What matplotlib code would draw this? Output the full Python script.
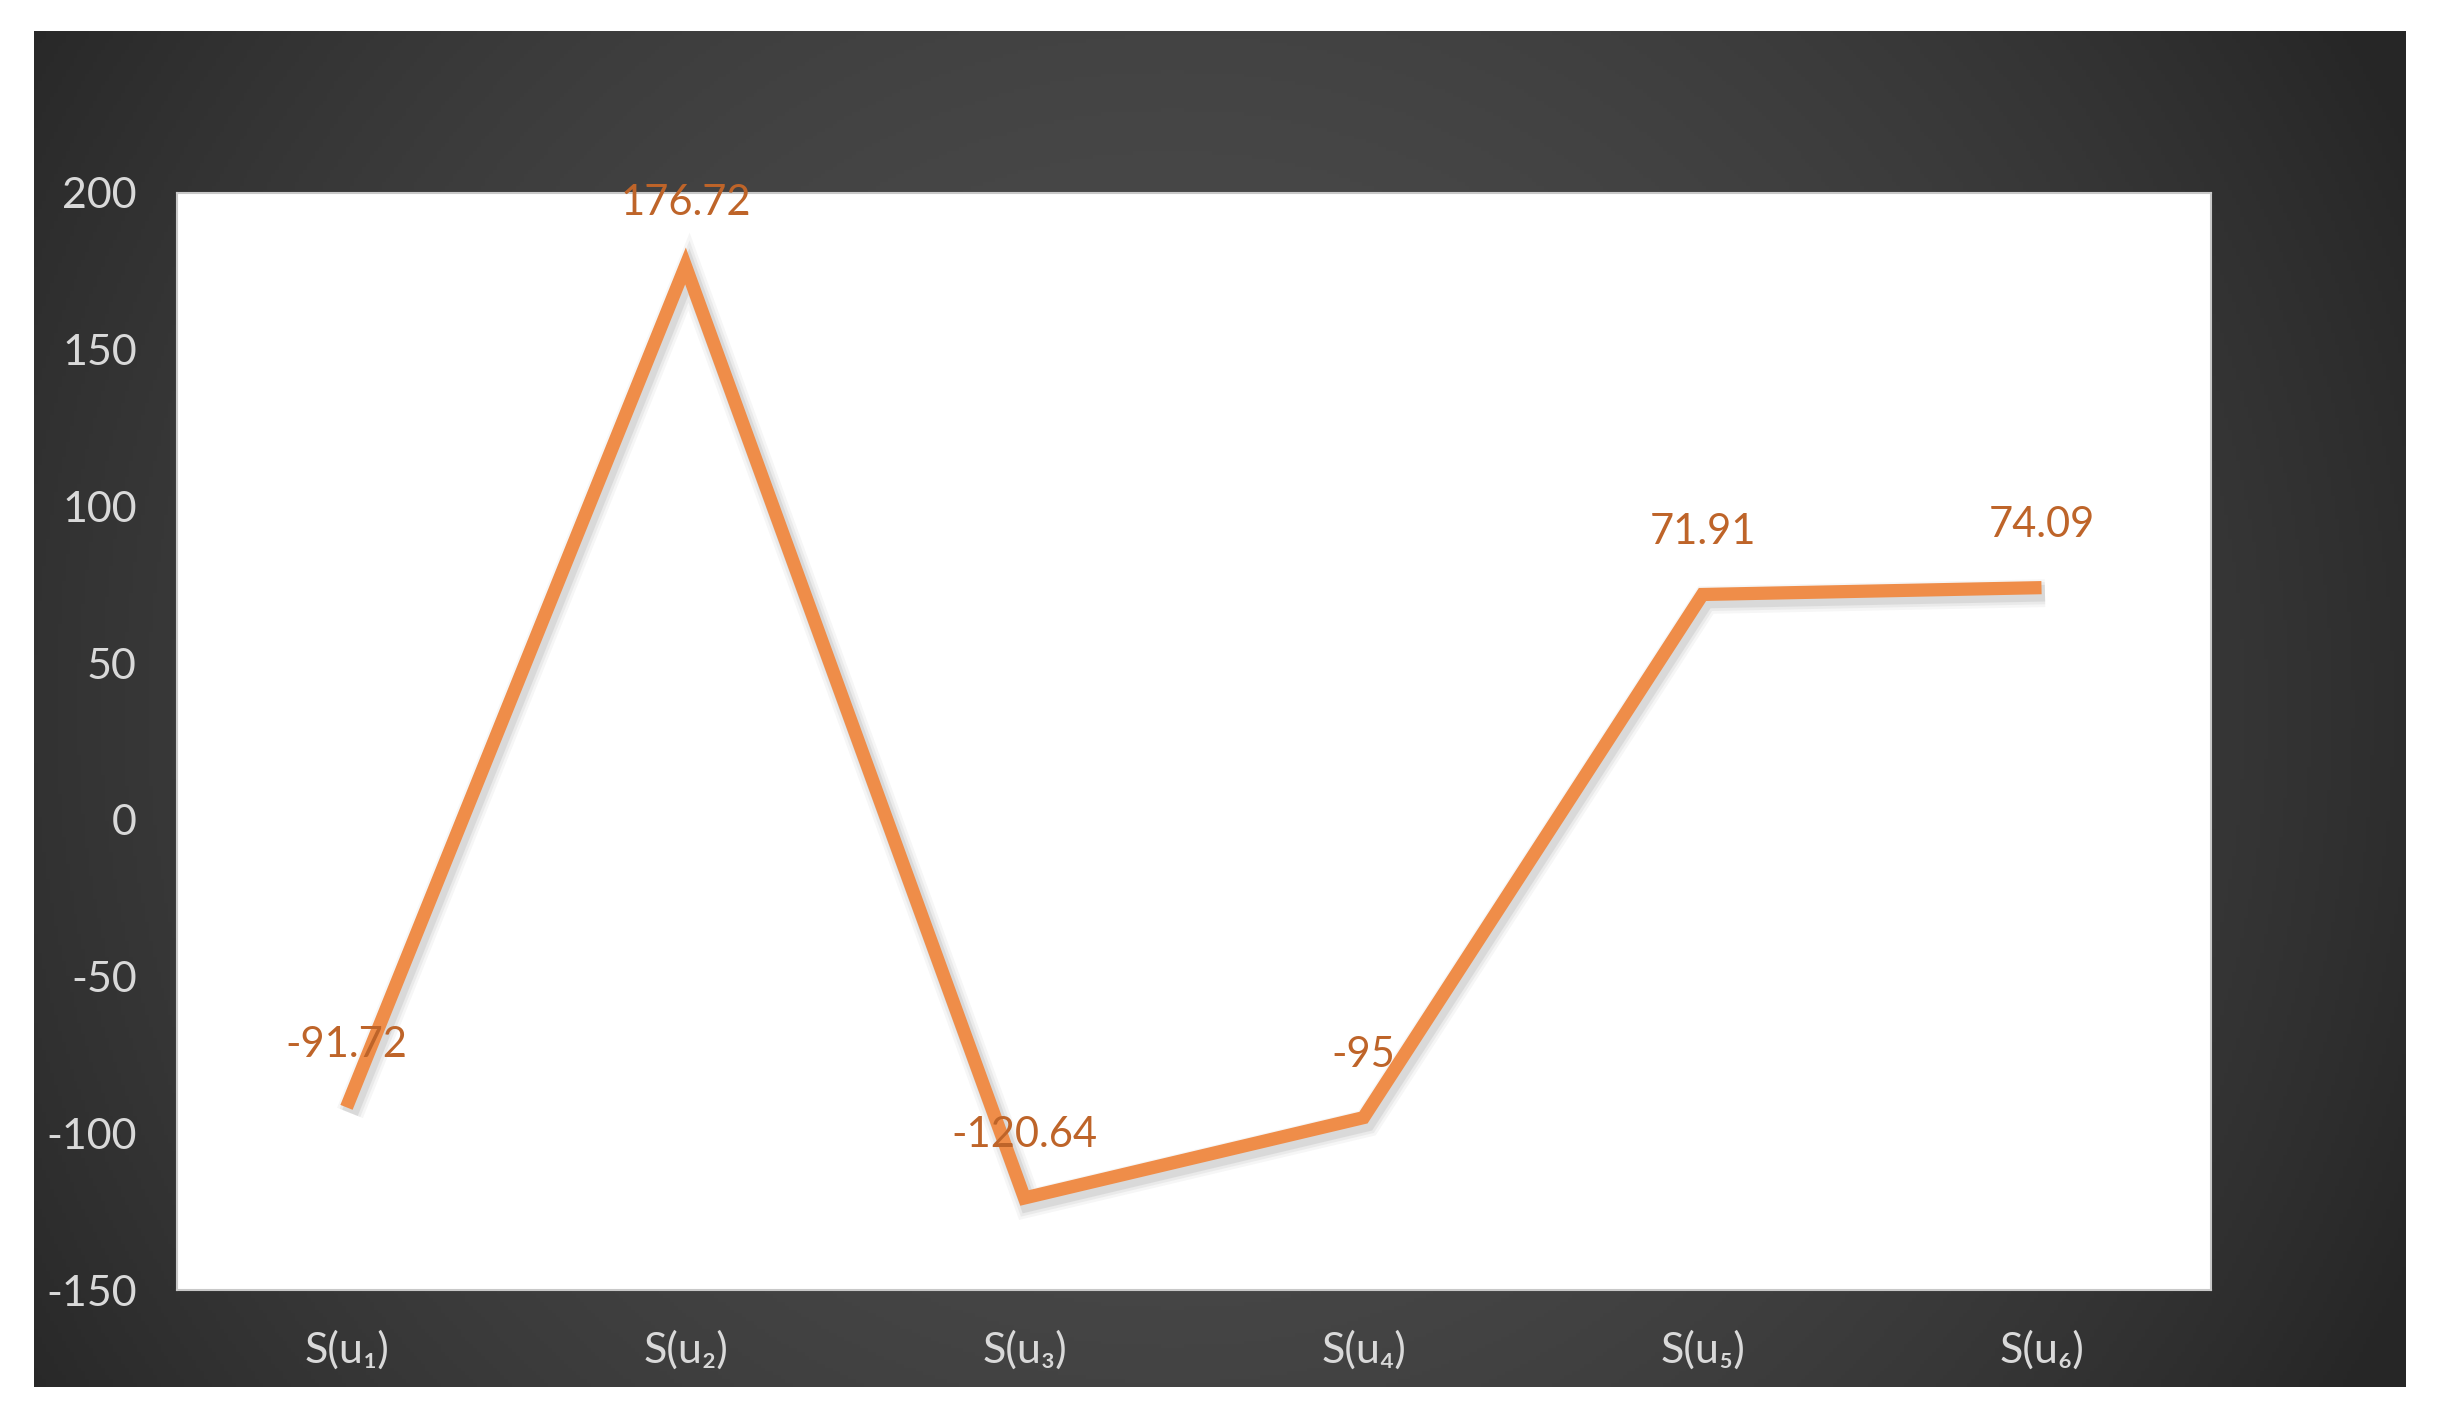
import numpy as np
import matplotlib
matplotlib.use("Agg")
import matplotlib.pyplot as plt
import matplotlib.patheffects as pe

categories = ["S(u₁)", "S(u₂)", "S(u₃)", "S(u₄)", "S(u₅)", "S(u₆)"]
values = [-91.72, 176.72, -120.64, -95, 71.91, 74.09]
value_labels = ["-91.72", "176.72", "-120.64", "-95", "71.91", "74.09"]
yticks = [-150, -100, -50, 0, 50, 100, 150, 200]

plt.rcParams['font.family'] = ['Lato', 'DejaVu Sans']

W, H = 2440, 1419
fig = plt.figure(figsize=(W / 100, H / 100), dpi=100)
fig.patch.set_facecolor('white')

# dark panel with radial gradient
bx0, bx1, by0, by1 = 34, 2406, 31, 1387
bg = fig.add_axes([bx0 / W, 1 - by1 / H, (bx1 - bx0) / W, (by1 - by0) / H])
gx, gy = np.meshgrid(np.linspace(-1, 1, 600), np.linspace(-1, 1, 350))
r = np.sqrt(0.75 * (gx + 0.04) ** 2 + 0.25 * gy ** 2)
r = np.clip(r, 0, 1)
shade = 0.30 - 0.15 * r ** 2
bg.imshow(np.dstack([shade] * 3), aspect='auto', extent=[0, 1, 0, 1])
bg.set_axis_off()

# plot area
px0, px1, py0, py1 = 177, 2211, 193, 1290
ax = fig.add_axes([px0 / W, 1 - py1 / H, (px1 - px0) / W, (py1 - py0) / H])
ax.set_facecolor('white')
x = np.arange(len(values))
shadow = [pe.SimpleLineShadow(offset=(2.5, -4), shadow_color='#666666', alpha=a, linewidth=lw)
          for lw, a in [(20, 0.06), (16, 0.08), (12, 0.12)]]
ax.plot(x, values, color='#EF8D49', linewidth=9.5,
        solid_joinstyle='miter', solid_capstyle='butt',
        path_effects=shadow + [pe.Normal()])
for xi, v, lab in zip(x, values, value_labels):
    ax.annotate(lab, (xi, v), xytext=(0, 45), textcoords='offset points',
                ha='center', va='center', fontsize=30, color='#BE6429',
                annotation_clip=False)

ax.set_xlim(-0.5, len(values) - 0.5)
ax.set_ylim(-150, 200)
ax.set_yticks(yticks)
ax.set_yticklabels([str(t) for t in yticks])
ax.set_xticks(x)
ax.set_xticklabels(categories)
ax.tick_params(axis='y', length=0, pad=29, labelsize=31, labelcolor='#D9D9D9')
ax.tick_params(axis='x', length=0, pad=29, labelsize=31, labelcolor='#D9D9D9')
for s in ax.spines.values():
    s.set_color('#C8C8C8')
    s.set_linewidth(1.5)

fig.savefig('out.png', dpi=100, facecolor='white')
